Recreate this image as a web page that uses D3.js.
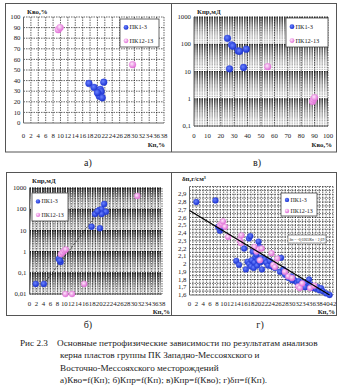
<!DOCTYPE html>
<html><head><meta charset="utf-8">
<script src="https://cdn.jsdelivr.net/npm/d3@7"></script>
<style>body{margin:0;background:#fff}</style>
</head><body><svg id="c" width="338" height="392" font-family="'Liberation Serif', 'Times New Roman', 'DejaVu Serif', serif"></svg>
<script>
// ---------- DATA ----------
const seriesNames = ["ПК1-3", "ПК12-13"];
// а) Кво = f(Кп)
const aBlueKp  = [17.7, 19.1, 21.7, 20.8, 21.0, 20.2, 20.5, 21.3, 20.0];
const aBlueKvo = [37.3, 33.6, 38.5, 31.7, 29.5, 27.8, 25.3, 23.8, 28.5];
const aPinkKp  = [9.4, 9.9, 29.5];
const aPinkKvo = [88, 90, 55];
const aXTicks = d3.range(0, 39, 2);
const aYTicks = d3.range(0, 101, 10);
// в) Кпр = f(Кво)
const vBlueKvo = [25, 28, 29, 33, 34, 39, 26.5, 37];
const vBlueKpr = [165, 95, 85, 57, 55, 66, 12.5, 14];
const vPinkKvo = [55, 88.5, 89.2, 90];
const vPinkKpr = [15, 0.8, 0.95, 1.1];
const vXTicks = d3.range(0, 101, 10);
const logTicksV = [0.1, 1, 10, 100, 1000];
// б) Кпр = f(Кп)
const bBlueKp  = [1.8, 4.1, 8.4, 8.9, 8.7, 17.8, 20.2, 18.8, 20.0, 20.7, 21.4, 21.9, 20.7, 19.5];
const bBlueKpr = [0.03, 0.03, 0.45, 0.32, 0.38, 15, 12.6, 59, 91, 100, 176, 76, 59, 80];
const bPinkKp  = [9.0, 9.5, 10.0, 10.4, 10.3, 12.2, 15.7, 30.9];
const bPinkKpr = [0.75, 0.9, 1.1, 1.25, 0.01, 0.01, 0.03, 420];
const bTrendKp  = [3.5, 22.1];
const bTrendKpr = [0.022, 230];
const bXTicks = d3.range(0, 39, 2);
const logTicksB = [0.01, 0.1, 1, 10, 100, 1000];
// г) δп = f(Кп)
const gBlueKp = [2.0, 7.6, 8.4, 8.9, 9.2, 13.7, 14.5, 16.0, 16.5, 17.0, 17.4, 17.8, 17.5, 18.0, 18.2, 18.5, 18.8, 19.0, 19.3, 19.6,
  19.8, 20.0, 20.2, 20.5, 20.7, 21.0, 21.2, 21.5, 22.0, 22.5, 23.0, 23.5, 24.0, 25.0, 26.8, 26.5, 27.5, 28.0, 29.0, 29.8,
  30.5, 31.0, 31.5, 32.0, 32.5, 33.0, 33.5, 34.0, 34.5, 35.0, 35.5, 36.0, 36.5, 37.0, 37.5, 38.0, 38.5, 39.0, 40.0, 41.0, 30.0, 33.8];
const gBlueD  = [2.80, 2.82, 2.48, 2.43, 2.46, 2.04, 1.99, 2.20, 1.93, 2.03, 2.33, 2.36, 2.00, 1.97, 2.05, 2.16, 1.95, 2.02, 2.09, 2.12,
  1.98, 2.05, 2.29, 2.22, 2.02, 2.08, 1.93, 2.04, 2.06, 2.02, 1.98, 2.04, 1.97, 1.95, 2.08, 1.90, 1.93, 1.86, 1.82, 1.84,
  1.80, 1.78, 1.76, 1.78, 1.74, 1.76, 1.72, 1.74, 1.71, 1.80, 1.73, 1.69, 1.71, 1.68, 1.70, 1.66, 1.69, 1.65, 1.62, 1.60, 1.79, 1.70];
const gPinkKp = [8.9, 9.4, 9.8, 10.4, 11.3, 14.7, 15.2, 15.0, 19.6, 20.1, 21.1, 20.6, 19.0, 24.0, 25.7, 24.5, 25.0, 27.9, 28.9, 30.0, 31.8, 32.3, 35.3, 33.0, 36.5];
const gPinkD  = [2.50, 2.52, 2.55, 2.48, 2.35, 2.31, 2.37, 2.27, 2.16, 2.19, 2.20, 2.05, 2.22, 2.14, 2.07, 1.99, 1.96, 1.90, 1.84, 1.82, 1.71, 1.69, 1.69, 1.75, 1.72];
const gFitKp = [0, 41];
const gFitD  = [2.69, 1.60];
const gEquation = "δп = -0,0265Кп + 2,69";
const gXTicks = d3.range(0, 43, 2);
const gYTicks = d3.range(16, 30, 1).map(v => v / 10);
const captionLines = [
  "Основные петрофизические зависимости по результатам анализов",
  "керна пластов группы ПК Западно-Мессояхского и",
  "Восточно-Мессояхского месторождений",
  "а)Кво=f(Кп); б)Кпр=f(Кп); в)Кпр=f(Кво); г)δп=f(Кп)."
];

// ---------- DRAW ----------
const svg = d3.select("#c");
const defs = svg.append("defs");
function grad(id, c0, c1) {
  const g = defs.append("radialGradient").attr("id", id).attr("cx", "40%").attr("cy", "38%").attr("r", "62%");
  g.append("stop").attr("offset", "0%").attr("stop-color", c0);
  g.append("stop").attr("offset", "100%").attr("stop-color", c1);
}
grad("gb", "#6a82ff", "#1a32d0");
grad("gp", "#fde8fb", "#e06cd6");
const fillOf = ["url(#gb)", "url(#gp)"];
const comma = v => String(v).replace(".", ",");

// frames
svg.append("rect").attr("x", 5.5).attr("y", 3.5).attr("width", 331).attr("height", 148.5).attr("fill", "none").attr("stroke", "#555");
svg.append("line").attr("x1", 171.5).attr("x2", 171.5).attr("y1", 3.5).attr("y2", 152).attr("stroke", "#555");
svg.append("rect").attr("x", 6.5).attr("y", 172.5).attr("width", 330).attr("height", 143).attr("fill", "none").attr("stroke", "#555");
svg.append("line").attr("x1", 171.5).attr("x2", 171.5).attr("y1", 172.5).attr("y2", 315.5).attr("stroke", "#555");

function gridV(g, x, vals, y0, y1) {
  g.selectAll(null).data(vals).enter().append("line")
    .attr("x1", d => x(d)).attr("x2", d => x(d)).attr("y1", y0).attr("y2", y1)
    .attr("stroke", "#000").attr("stroke-width", 0.6).attr("stroke-dasharray", "1.5,1");
}
function gridH(g, y, vals, x0, x1, op, w) {
  g.selectAll(null).data(vals).enter().append("line")
    .attr("y1", d => y(d)).attr("y2", d => y(d)).attr("x1", x0).attr("x2", x1)
    .attr("stroke", "#000").attr("stroke-width", w || 0.6).attr("stroke-opacity", op || 1).attr("stroke-dasharray", "1.5,1");
}
function logMinor(lo, hi) {
  const out = [];
  for (let d = lo; d < hi * 0.999; d *= 10) {
    for (let m = 1.2; m < 9.95; m += 0.2) out.push(d * m);
  }
  return out;
}
function axes(g, x, y, xt, yt, xf, yf, x0, x1, y0, y1, xLabY) {
  g.append("line").attr("x1", x0).attr("x2", x0).attr("y1", y0).attr("y2", y1).attr("stroke", "#666").attr("stroke-width", 1);
  g.append("line").attr("x1", x0).attr("x2", x1).attr("y1", y1).attr("y2", y1).attr("stroke", "#666").attr("stroke-width", 1);
  g.selectAll(null).data(xt).enter().append("text").attr("x", d => x(d)).attr("y", xLabY)
    .attr("text-anchor", "middle").attr("font-size", 6.8).attr("fill", "#222").text(xf);
  g.selectAll(null).data(yt).enter().append("text").attr("x", x0 - 3).attr("y", d => y(d) + 2.2)
    .attr("text-anchor", "end").attr("font-size", 6.8).attr("fill", "#222").text(yf);
}
function points(g, x, y, xs, ys, s, r) {
  g.selectAll(null).data(xs.map((v, i) => [v, ys[i]])).enter().append("circle")
    .attr("cx", d => x(d[0])).attr("cy", d => y(d[1])).attr("r", r)
    .attr("fill", fillOf[s]).attr("stroke", s ? "#e880dc" : "#2a40d8").attr("stroke-width", 0.4);
}
function legend(g, bx, by, bw, bh, r, fs) {
  g.append("rect").attr("x", bx).attr("y", by).attr("width", bw).attr("height", bh)
    .attr("fill", "#fff").attr("stroke", "#444").attr("stroke-width", 0.8);
  seriesNames.forEach((n, i) => {
    const yy = by + bh * (i === 0 ? 0.3 : 0.78);
    g.append("circle").attr("cx", bx + 6).attr("cy", yy).attr("r", r).attr("fill", fillOf[i]);
    g.append("text").attr("x", bx + 9.5).attr("y", yy + 2).attr("font-size", fs).attr("fill", "#222").text(n);
  });
}
function title(g, x, y, t, anchor) {
  g.append("text").attr("x", x).attr("y", y).attr("font-size", 6.8).attr("font-weight", "bold")
    .attr("text-anchor", anchor || "start").attr("fill", "#222").text(t);
}

// ---- а)
{
  const g = svg.append("g");
  const x = d3.scaleLinear().domain([0, 38]).range([23.5, 164]);
  const y = d3.scaleLinear().domain([0, 100]).range([123, 17]);
  gridV(g, x, aXTicks.slice(1), 17, 123);
  gridH(g, y, aYTicks.slice(1), 23.5, 164);
  axes(g, x, y, aXTicks, aYTicks, d => d, d => d, 23.5, 164, 17, 123, 138);
  points(g, x, y, aBlueKp, aBlueKvo, 0, 3.4);
  points(g, x, y, aPinkKp, aPinkKvo, 1, 3.4);
  legend(g, 120, 19, 39, 28, 2.4, 6.4);
  title(g, 27, 14, "Кво,%");
  title(g, 165, 147, "Кп,%", "end");
}
// ---- в)
{
  const g = svg.append("g");
  const x = d3.scaleLinear().domain([0, 100]).range([194, 328]);
  const y = d3.scaleLog().domain([0.1, 1000]).range([126, 17]);
  gridH(g, y, logMinor(0.1, 1000), 194, 328, 0.6, 0.5);
  gridH(g, y, logTicksV, 194, 328, 1, 0.8);
  gridV(g, x, vXTicks.slice(1), 17, 126);
  axes(g, x, y, vXTicks, logTicksV, d => d, d => comma(d), 194, 328, 17, 126, 138);
  points(g, x, y, vBlueKvo, vBlueKpr, 0, 3.4);
  points(g, x, y, vPinkKvo, vPinkKpr, 1, 3.4);
  legend(g, 286, 18, 42, 29, 2.4, 6.4);
  title(g, 197, 14, "Кпр,мД");
  title(g, 332, 147, "Кво,%", "end");
}
// ---- б)
{
  const g = svg.append("g");
  const x = d3.scaleLinear().domain([0, 38]).range([29.5, 162]);
  const y = d3.scaleLog().domain([0.01, 1000]).range([294, 188]);
  gridH(g, y, logMinor(0.01, 1000), 29.5, 162, 0.6, 0.5);
  gridH(g, y, logTicksB, 29.5, 162, 1, 1);
  gridV(g, x, d3.range(1, 39, 1), 188, 294);
  axes(g, x, y, bXTicks, logTicksB, d => d, d => comma(d), 29.5, 162, 188, 294, 306);
  g.append("path").attr("d", d3.line().x(d => x(d[0])).y(d => y(d[1]))(bTrendKp.map((v, i) => [v, bTrendKpr[i]])))
    .attr("stroke", "#222").attr("stroke-width", 0.8).attr("stroke-dasharray", "2,1.5").attr("fill", "none");
  points(g, x, y, bBlueKp, bBlueKpr, 0, 3);
  points(g, x, y, bPinkKp, bPinkKpr, 1, 3);
  legend(g, 32, 193, 36, 28, 2.2, 6);
  title(g, 32, 183, "Кпр,мД");
  title(g, 170, 313.5, "Кп,%", "end");
}
// ---- г)
{
  const g = svg.append("g");
  const x = d3.scaleLinear().domain([0, 42]).range([189.5, 333]);
  const y = d3.scaleLinear().domain([1.6, 3.0]).range([295, 186.5]);
  gridH(g, y, d3.range(33, 61, 1).map(v => v / 20), 189.5, 333);
  gridV(g, x, d3.range(1, 43, 1), 186.5, 295);
  axes(g, x, y, gXTicks, gYTicks, d => d, d => comma(d), 189.5, 333, 186.5, 295, 306);
  points(g, x, y, gBlueKp, gBlueD, 0, 2.9);
  points(g, x, y, gPinkKp, gPinkD, 1, 2.9);
  g.append("path").attr("d", d3.line().x(d => x(d[0])).y(d => y(d[1]))(gFitKp.map((v, i) => [v, gFitD[i]])))
    .attr("stroke", "#000").attr("stroke-width", 1.3).attr("fill", "none");
  legend(g, 281, 193, 36, 23, 2.2, 6);
  g.append("rect").attr("x", 288).attr("y", 235).attr("width", 38).attr("height", 8).attr("fill", "#fff").attr("stroke", "#444").attr("stroke-width", 0.6);
  g.append("text").attr("x", 307).attr("y", 240.8).attr("text-anchor", "middle").attr("font-size", 3.8).attr("fill", "#222").text(gEquation);
  title(g, 182, 181, "δп,г/см³");
  title(g, 335, 314, "Кп,%", "end");
}
// panel labels
[["а)", 88, 166], ["в)", 257, 166], ["б)", 88, 328], ["г)", 260, 328]].forEach(d =>
  svg.append("text").attr("x", d[1]).attr("y", d[2]).attr("text-anchor", "middle").attr("font-size", 10).attr("fill", "#222").text(d[0]));
// caption
svg.append("text").attr("x", 20).attr("y", 346).attr("font-size", 9.2).attr("fill", "#222").text("Рис 2.3");
captionLines.forEach((t, i) =>
  svg.append("text").attr("x", i === 0 ? 57 : 60).attr("y", 346 + i * 12.3).attr("font-size", 9.2).attr("fill", "#222").text(t));
</script></body></html>
